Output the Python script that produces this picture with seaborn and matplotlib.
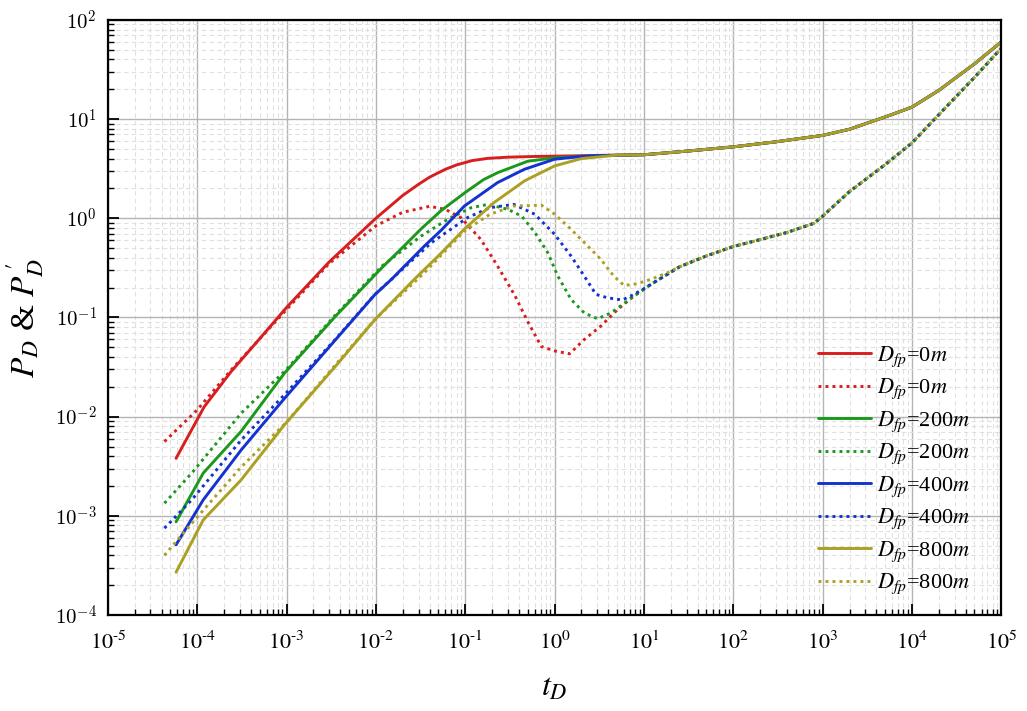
import numpy as np
import matplotlib
matplotlib.use("Agg")
import matplotlib.pyplot as plt
from matplotlib.ticker import LogLocator, NullFormatter
import seaborn as sns

# (log-log type curves, P_D and derivative P_D')
labels = ["0", "200", "400", "800"]
colors = ["#d81e1e", "#1c981c", "#1432d0", "#aca024"]

# shared late-time part
t_tail = [25, 50, 100, 200, 400, 800, 1000, 2000, 5000, 1e4, 2e4, 5e4, 1e5]
dp_tail = [0.324, 0.417, 0.519, 0.61, 0.72, 0.89, 1.05, 1.86, 3.47, 5.75, 11.1, 26.3, 51.9]
t_ptail = [10, 30, 100, 300, 1000, 2000, 5000, 1e4, 2e4, 5e4, 1e5]
p_tail = [4.37, 4.75, 5.25, 5.9, 6.85, 7.9, 10.5, 13.2, 19.5, 36, 60]

# pressure P_D, early part
t_p0 = [5.8e-5, 1.2e-4, 2.4e-4, 5e-4, 1e-3, 3e-3, 1e-2, 2e-2, 3e-2, 4e-2, 6e-2, 8e-2, 0.12,
        0.18, 0.3, 0.6, 1, 3]
p_0 = [0.0038, 0.0126, 0.0285, 0.061, 0.126, 0.363, 1.0, 1.7, 2.2, 2.6, 3.12, 3.45, 3.82,
       4.02, 4.13, 4.2, 4.23, 4.3]
t_p200 = [5.8e-5, 1.17e-4, 3.1e-4, 9.5e-4, 3.5e-3, 1.17e-2, 2e-2, 3.2e-2, 5.4e-2, 0.1, 0.16,
          0.23, 0.5, 1, 3]
p_200 = [8.7e-4, 2.7e-3, 7.1e-3, 0.0275, 0.102, 0.318, 0.51, 0.78, 1.2, 1.82, 2.45,
         2.88, 3.76, 4.07, 4.28]
t_p400 = [5.8e-5, 1.17e-4, 3.1e-4, 9.5e-4, 3.5e-3, 9.7e-3, 1.5e-2, 3.5e-2, 5.4e-2, 9.8e-2,
          0.23, 0.46, 1, 2, 3]
p_400 = [5.1e-4, 1.45e-3, 4.6e-3, 0.0153, 0.059, 0.169, 0.243, 0.526, 0.76, 1.33,
         2.29, 3.12, 3.94, 4.2, 4.28]
t_p800 = [5.8e-5, 1.17e-4, 3.1e-4, 9.5e-4, 3.5e-3, 9.7e-3, 2.7e-2, 5.4e-2, 9.8e-2, 0.21,
          0.46, 1, 2, 5]
p_800 = [2.7e-4, 9.1e-4, 2.3e-3, 8.3e-3, 0.0319, 0.0946, 0.243, 0.447, 0.78, 1.44,
         2.38, 3.37, 4.0, 4.33]

# derivative P_D', early part
t_d0 = [4.3e-5, 1e-4, 2.4e-4, 1e-3, 3e-3, 1e-2, 2e-2, 4e-2, 6e-2, 9e-2, 0.15, 0.23, 0.36,
        0.5, 0.71, 1.0, 1.47, 2.15, 3.3, 5.06, 7.7, 11.9]
d_0 = [0.0056, 0.0117, 0.0296, 0.12, 0.35, 0.84, 1.15, 1.32, 1.23, 1.01, 0.61, 0.33, 0.166,
       0.091, 0.051, 0.046, 0.043, 0.060, 0.082, 0.12, 0.164, 0.215]
t_d200 = [4.3e-5, 8.7e-5, 3.1e-4, 1e-3, 3.5e-3, 1.17e-2, 3.2e-2, 6.4e-2, 0.117, 0.18, 0.3,
          0.43, 0.6, 0.84, 1.09, 1.53, 2.15, 3.03, 4.27, 6.5, 7.7, 11.9]
d_200 = [1.34e-3, 2.7e-3, 0.0108, 0.030, 0.105, 0.33, 0.66, 0.98, 1.28, 1.38, 1.23,
         1.05, 0.72, 0.45, 0.26, 0.152, 0.111, 0.097, 0.111, 0.146, 0.164, 0.215]
t_d400 = [4.3e-5, 8.7e-5, 3.1e-4, 1e-3, 3.5e-3, 9.7e-3, 1.64e-2, 4.2e-2, 0.107, 0.19, 0.35,
          0.6, 1.0, 1.53, 2.15, 2.9, 3.9, 5.7, 7.1, 10]
d_400 = [7.5e-4, 1.45e-3, 5.8e-3, 0.0175, 0.06, 0.17, 0.262, 0.569, 1.02, 1.28, 1.38,
         1.1, 0.69, 0.416, 0.261, 0.171, 0.158, 0.150, 0.164, 0.195]
t_d800 = [4.3e-5, 8.7e-5, 3.1e-4, 1e-3, 3.5e-3, 9.7e-3, 3.5e-2, 9.8e-2, 0.19, 0.35, 0.64,
          0.71, 1.0, 1.4, 2.15, 3.3, 4.6, 6.0, 8.4, 11.9, 18.2]
d_800 = [4.0e-4, 8.4e-4, 3.1e-3, 0.0088, 0.033, 0.095, 0.283, 0.745, 1.1, 1.33, 1.35,
         1.36, 1.1, 0.835, 0.569, 0.385, 0.261, 0.21, 0.219, 0.242, 0.282]

p_early = [(t_p0, p_0), (t_p200, p_200), (t_p400, p_400), (t_p800, p_800)]
d_early = [(t_d0, d_0), (t_d200, d_200), (t_d400, d_400), (t_d800, d_800)]

sns.set_style("whitegrid")
plt.rcParams["font.family"] = ["Liberation Serif", "DejaVu Serif"]
plt.rcParams["mathtext.fontset"] = "stix"
plt.rcParams["text.color"] = "black"

fig = plt.figure(figsize=(10.27, 7.11), dpi=100)
ax = fig.add_axes([0.105, 0.135, 0.87, 0.837])

for lab, col, (tp, pp), (td, dd) in zip(labels, colors, p_early, d_early):
    tp_all = list(tp) + [t for t in t_ptail if t > tp[-1]]
    pp_all = list(pp) + [p for t, p in zip(t_ptail, p_tail) if t > tp[-1]]
    td_all = list(td) + [t for t in t_tail if t > td[-1]]
    dd_all = list(dd) + [d for t, d in zip(t_tail, dp_tail) if t > td[-1]]
    name = r"$D_{fp}$=" + lab + r"$m$"
    sns.lineplot(x=tp_all, y=pp_all, ax=ax, color=col, linewidth=2.1, label=name,
                 estimator=None, sort=False)
    sns.lineplot(x=td_all, y=dd_all, ax=ax, color=col, linewidth=2.1, linestyle=(0, (1, 1.4)),
                 label=name, estimator=None, sort=False)

ax.set_xscale("log")
ax.set_yscale("log")
ax.set_xlim(1e-5, 1e5)
ax.set_ylim(1e-4, 1e2)

xdec = [10.0 ** k for k in range(-5, 6)]
ydec = [10.0 ** k for k in range(-4, 3)]
ax.set_xticks(xdec, labels=[r"$10^{\text{%d}}$" % k for k in range(-5, 6)])
ax.set_yticks(ydec, labels=[r"$10^{%d}$" % k for k in range(-4, 3)])
ax.xaxis.set_minor_locator(LogLocator(base=10, subs=np.arange(2, 10), numticks=100))
ax.yaxis.set_minor_locator(LogLocator(base=10, subs=np.arange(2, 10), numticks=100))
ax.xaxis.set_minor_formatter(NullFormatter())
ax.yaxis.set_minor_formatter(NullFormatter())
for lbl in ax.get_yticklabels():
    lbl.set_math_fontfamily("cm")

ax.grid(which="major", color="#b4b4b4", lw=1.0, ls="-")
ax.grid(which="minor", color="#e0e0e0", lw=0.8, ls=(0, (4, 3)))
ax.tick_params(which="major", direction="in", length=8, width=1.3, color="black",
               labelcolor="black", bottom=True, left=True)
ax.tick_params(axis="x", which="major", labelsize=16, pad=12)
ax.tick_params(axis="y", which="major", labelsize=15, pad=8)
ax.tick_params(which="minor", direction="in", length=4, width=1.0, color="black",
               bottom=True, left=True)
for s in ax.spines.values():
    s.set_color("black")
    s.set_linewidth(1.6)

ax.set_xlabel(r"$t_D$", fontsize=23, labelpad=14, color="black")
ax.set_ylabel(r"$P_D$ & $P_D^{\,\prime}$", fontsize=24, labelpad=6, color="black")

ax.legend(loc="lower right", bbox_to_anchor=(0.982, 0.005), frameon=False,
          fontsize=16, handlelength=2.4, handletextpad=0.25, labelspacing=0.36,
          borderaxespad=0.3)

fig.savefig("out.png", dpi=100)
